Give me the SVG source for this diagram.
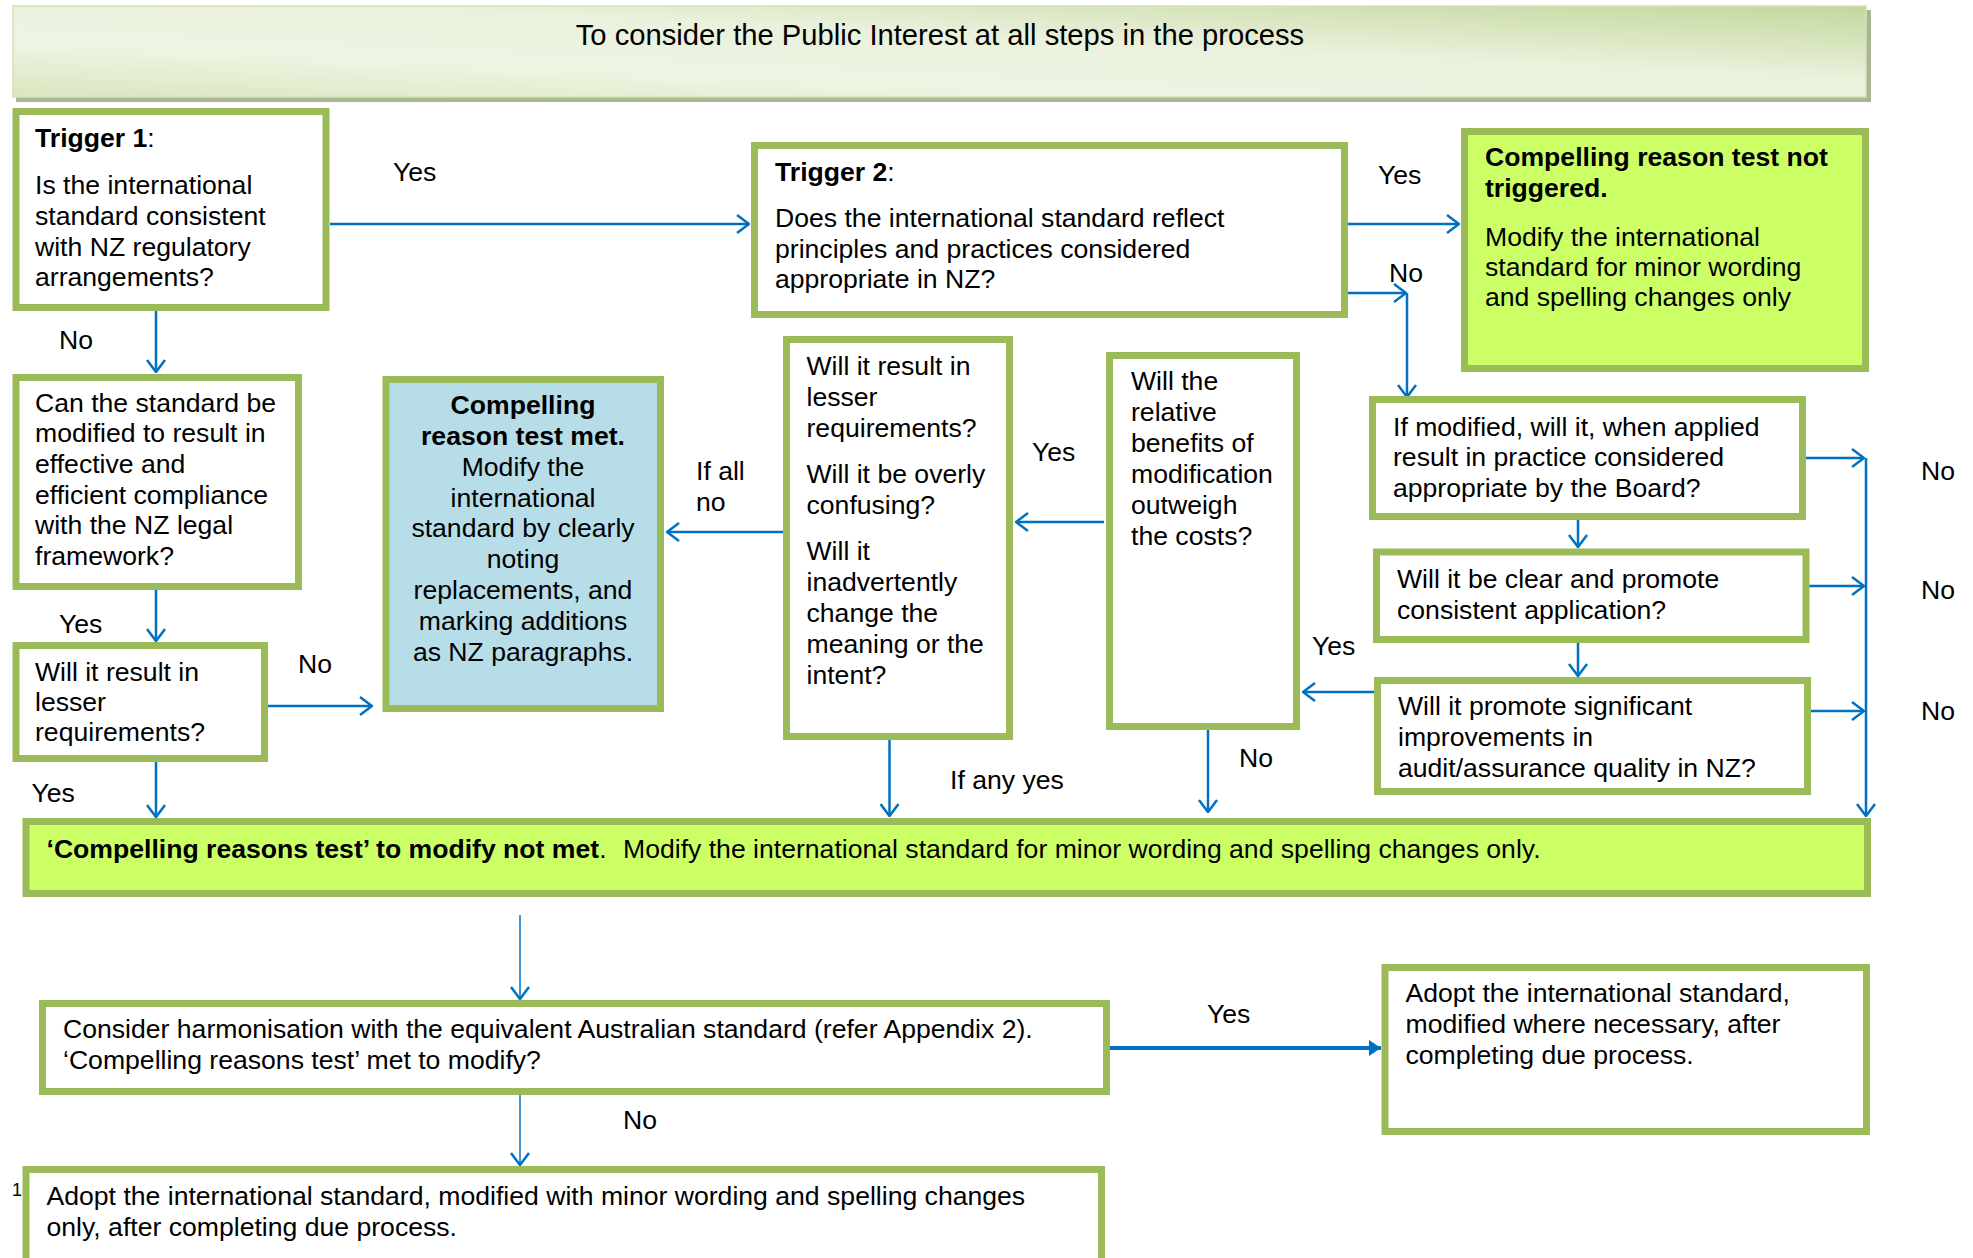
<svg xmlns="http://www.w3.org/2000/svg" width="1973" height="1258" viewBox="0 0 1973 1258">
<style>
text{font-family:"Liberation Sans",Arial,sans-serif;font-size:26.6px;fill:#000}
.b{font-weight:bold}
.box{fill:#fff;stroke:#9BBB59;stroke-width:7}
.lime{fill:#CCFF66;stroke:#9BBB59;stroke-width:7}
.blue{fill:#B7DDE8;stroke:#9BBB59;stroke-width:7}
.c{fill:none;stroke:#0070C0;stroke-width:2.5}
.m{text-anchor:middle}
</style>
<defs>
<marker id="a" viewBox="0 0 14 20" refX="13" refY="10" markerWidth="14" markerHeight="20" markerUnits="userSpaceOnUse" orient="auto">
<path d="M1,1 L13,10 L1,19" fill="none" stroke="#0070C0" stroke-width="2.5"/>
</marker>
<marker id="f" viewBox="0 0 12 16" refX="12" refY="8" markerWidth="12" markerHeight="16" markerUnits="userSpaceOnUse" orient="auto">
<path d="M0,0 L12,8 L0,16 Z" fill="#0070C0"/>
</marker>
<linearGradient id="hg" x1="0" y1="1" x2="1" y2="0">
<stop offset="0" stop-color="#D9E6BF"/>
<stop offset="0.3" stop-color="#EEF4E2"/>
<stop offset="0.6" stop-color="#EAF1DC"/>
<stop offset="1" stop-color="#C3D79C"/>
</linearGradient>
</defs>

<g id="header">
<rect x="16" y="10" width="1855" height="92" fill="#A9B593"/>
<rect x="13" y="6" width="1853" height="91" fill="url(#hg)" stroke="#D3E2B6" stroke-width="1.5"/>
<text x="940" y="45" class="m" style="font-size:29.2px">To consider the Public Interest at all steps in the process</text>
</g>

<g id="connectors">
<path class="c" d="M330,224 H749" marker-end="url(#a)"/>
<path class="c" d="M1348,224 H1459" marker-end="url(#a)"/>
<path class="c" d="M1348,293 H1406" marker-end="url(#a)"/>
<path class="c" d="M1407,293 V397" marker-end="url(#a)"/>
<path class="c" d="M156,311 V372" marker-end="url(#a)"/>
<path class="c" d="M156,590 V641" marker-end="url(#a)"/>
<path class="c" d="M268,706 H372" marker-end="url(#a)"/>
<path class="c" d="M156,762 V817" marker-end="url(#a)"/>
<path class="c" d="M783,532 H667" marker-end="url(#a)"/>
<path class="c" d="M1104,522 H1016" marker-end="url(#a)"/>
<path class="c" d="M889.5,740 V816" marker-end="url(#a)"/>
<path class="c" d="M1208,730 V812" marker-end="url(#a)"/>
<path class="c" d="M1374,692 H1303" marker-end="url(#a)"/>
<path class="c" d="M1578,520 V547" marker-end="url(#a)"/>
<path class="c" d="M1578,643 V676" marker-end="url(#a)"/>
<path class="c" d="M1806,458 H1864" marker-end="url(#a)"/>
<path class="c" d="M1809,586 H1864" marker-end="url(#a)"/>
<path class="c" d="M1811,711 H1864" marker-end="url(#a)"/>
<path class="c" d="M1866,458 V816" marker-end="url(#a)"/>
<path class="c" d="M520,915 V999" marker-end="url(#a)" style="stroke-width:1.5"/>
<path class="c" d="M1110,1048 H1381" marker-end="url(#f)" style="stroke-width:4"/>
<path class="c" d="M520,1095 V1165" marker-end="url(#a)" style="stroke-width:1.5"/>
</g>

<g id="trigger1">
<rect class="box" x="16" y="111.5" width="310" height="196"/>
<text x="35" y="147"><tspan class="b">Trigger 1</tspan>:</text>
<text x="35" y="194">Is the international</text>
<text x="35" y="225">standard consistent</text>
<text x="35" y="256">with NZ regulatory</text>
<text x="35" y="286">arrangements?</text>
</g>

<g id="trigger2">
<rect class="box" x="754.5" y="145.5" width="590" height="169"/>
<text x="775" y="181"><tspan class="b">Trigger 2</tspan>:</text>
<text x="775" y="227">Does the international standard reflect</text>
<text x="775" y="258">principles and practices considered</text>
<text x="775" y="288">appropriate in NZ?</text>
</g>

<g id="not-triggered">
<rect class="lime" x="1464.5" y="131.5" width="401" height="237"/>
<text x="1485" y="166" class="b">Compelling reason test not</text>
<text x="1485" y="197" class="b">triggered.</text>
<text x="1485" y="246">Modify the international</text>
<text x="1485" y="276">standard for minor wording</text>
<text x="1485" y="306">and spelling changes only</text>
</g>

<g id="can-modify">
<rect class="box" x="16" y="377.5" width="282.5" height="209"/>
<text x="35" y="412">Can the standard be</text>
<text x="35" y="442">modified to result in</text>
<text x="35" y="473">effective and</text>
<text x="35" y="503.5">efficient compliance</text>
<text x="35" y="534">with the NZ legal</text>
<text x="35" y="565">framework?</text>
</g>

<g id="lesser-left">
<rect class="box" x="16" y="645.5" width="248.5" height="113"/>
<text x="35" y="681">Will it result in</text>
<text x="35" y="711">lesser</text>
<text x="35" y="741">requirements?</text>
</g>

<g id="test-met">
<rect class="blue" x="386" y="379.5" width="274.5" height="329"/>
<text x="523" y="414" class="m b">Compelling</text>
<text x="523" y="445" class="m b">reason test met.</text>
<text x="523" y="476" class="m">Modify the</text>
<text x="523" y="507" class="m">international</text>
<text x="523" y="537" class="m">standard by clearly</text>
<text x="523" y="568" class="m">noting</text>
<text x="523" y="599" class="m">replacements, and</text>
<text x="523" y="630" class="m">marking additions</text>
<text x="523" y="661" class="m">as NZ paragraphs.</text>
</g>

<g id="questions">
<rect class="box" x="786.5" y="339.5" width="223" height="397"/>
<text x="806.5" y="375">Will it result in</text>
<text x="806.5" y="406">lesser</text>
<text x="806.5" y="437">requirements?</text>
<text x="806.5" y="483">Will it be overly</text>
<text x="806.5" y="514">confusing?</text>
<text x="806.5" y="560">Will it</text>
<text x="806.5" y="591">inadvertently</text>
<text x="806.5" y="622">change the</text>
<text x="806.5" y="653">meaning or the</text>
<text x="806.5" y="684">intent?</text>
</g>

<g id="benefits">
<rect class="box" x="1109.5" y="355.5" width="187" height="371"/>
<text x="1131" y="390">Will the</text>
<text x="1131" y="421">relative</text>
<text x="1131" y="452">benefits of</text>
<text x="1131" y="483">modification</text>
<text x="1131" y="514">outweigh</text>
<text x="1131" y="545">the costs?</text>
</g>

<g id="if-modified">
<rect class="box" x="1372.5" y="399.5" width="430" height="117"/>
<text x="1393" y="436">If modified, will it, when applied</text>
<text x="1393" y="466">result in practice considered</text>
<text x="1393" y="497">appropriate by the Board?</text>
</g>

<g id="clear">
<rect class="box" x="1376.5" y="552" width="429.5" height="87.5"/>
<text x="1397" y="588">Will it be clear and promote</text>
<text x="1397" y="619">consistent application?</text>
</g>

<g id="promote">
<rect class="box" x="1377.5" y="680.5" width="430" height="111"/>
<text x="1398" y="715">Will it promote significant</text>
<text x="1398" y="746">improvements in</text>
<text x="1398" y="777">audit/assurance quality in NZ?</text>
</g>

<g id="not-met">
<rect class="lime" x="26" y="821.5" width="1841.5" height="72"/>
<text x="46.5" y="858"><tspan class="b">‘Compelling reasons test’ to modify not met</tspan>.<tspan x="623">Modify the international standard for minor wording and spelling changes only.</tspan></text>
</g>

<g id="harmonisation">
<rect class="box" x="42.5" y="1003.5" width="1064" height="88"/>
<text x="63" y="1038">Consider harmonisation with the equivalent Australian standard (refer Appendix 2).</text>
<text x="63" y="1069">‘Compelling reasons test’ met to modify?</text>
</g>

<g id="adopt-modified">
<rect class="box" x="1385" y="967.5" width="481.5" height="164"/>
<text x="1405.5" y="1002">Adopt the international standard,</text>
<text x="1405.5" y="1033">modified where necessary, after</text>
<text x="1405.5" y="1064">completing due process.</text>
</g>

<g id="adopt-minor">
<rect class="box" x="26" y="1169.5" width="1075.5" height="100"/>
<text x="46.5" y="1205">Adopt the international standard, modified with minor wording and spelling changes</text>
<text x="46.5" y="1236">only, after completing due process.</text>
</g>

<g id="labels">
<text x="393" y="181">Yes</text>
<text x="1378" y="184">Yes</text>
<text x="1389" y="282">No</text>
<text x="59" y="349">No</text>
<text x="59" y="633">Yes</text>
<text x="298" y="673">No</text>
<text x="31.5" y="802">Yes</text>
<text x="696" y="480">If all</text>
<text x="696" y="511">no</text>
<text x="1032" y="461">Yes</text>
<text x="950" y="789">If any yes</text>
<text x="1239" y="767">No</text>
<text x="1312" y="655">Yes</text>
<text x="1921" y="480">No</text>
<text x="1921" y="599">No</text>
<text x="1921" y="720">No</text>
<text x="1207" y="1023">Yes</text>
<text x="623" y="1129">No</text>
<text x="12" y="1196" style="font-size:18px">1</text>
</g>
</svg>
